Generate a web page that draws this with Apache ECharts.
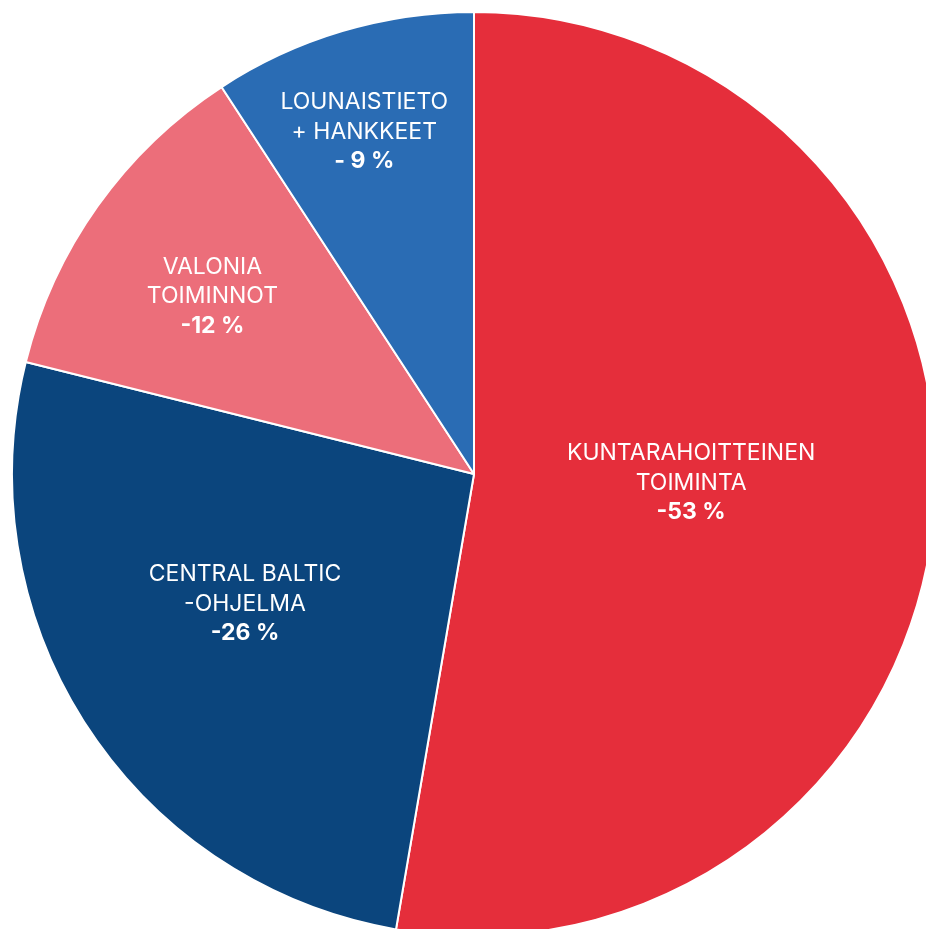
<!DOCTYPE html>
<html>
<head>
<meta charset="utf-8">
<script src="https://cdn.jsdelivr.net/npm/echarts@6/dist/echarts.min.js"></script>
<style>
html,body{margin:0;padding:0;background:#fff;}
#chart{width:926px;height:929px;}
</style>
</head>
<body>
<div id="chart"></div>
<script>
const categories = ['KUNTARAHOITTEINEN\nTOIMINTA', 'CENTRAL BALTIC\n-OHJELMA', 'VALONIA\nTOIMINNOT', 'LOUNAISTIETO\n+ HANKKEET'];
const values = [52.7, 26.2, 11.9, 9.2];
const percentLabels = ['-53 %', '-26 %', '-12 %', '- 9 %'];
const colors = ['#E52E3B', '#0B457D', '#EC6E7A', '#2A6CB4'];
const labelShift = [[-16, -11], [-33, 2], [-71, -42], [-43, -118]];

const chart = echarts.init(document.getElementById('chart'));
chart.setOption({
  animation: false,
  series: [{
    type: 'pie',
    center: [474, 474],
    radius: 462,
    startAngle: 90,
    clockwise: true,
    avoidLabelOverlap: false,
    itemStyle: { borderColor: '#fff', borderWidth: 2 },
    label: {
      position: 'inside',
      color: '#fff',
      fontFamily: 'Inter',
      fontSize: 23,
      lineHeight: 29.5,
      formatter: function (p) {
        return '{n|' + p.name.split('\n').join('}\n{n|') + '}\n{p|' + percentLabels[p.dataIndex] + '}';
      },
      rich: {
        n: { color: '#fff', fontFamily: 'Inter', fontSize: 23, lineHeight: 29.5 },
        p: { color: '#fff', fontFamily: 'Inter', fontSize: 23, fontWeight: 'bold', lineHeight: 29.5 }
      }
    },
    labelLine: { show: false },
    labelLayout: function (params) {
      const s = labelShift[params.dataIndex];
      return { dx: s[0], dy: s[1] };
    },
    emphasis: { disabled: true },
    data: categories.map((c, i) => ({ name: c, value: values[i], itemStyle: { color: colors[i] } }))
  }]
});
</script>
</body>
</html>
